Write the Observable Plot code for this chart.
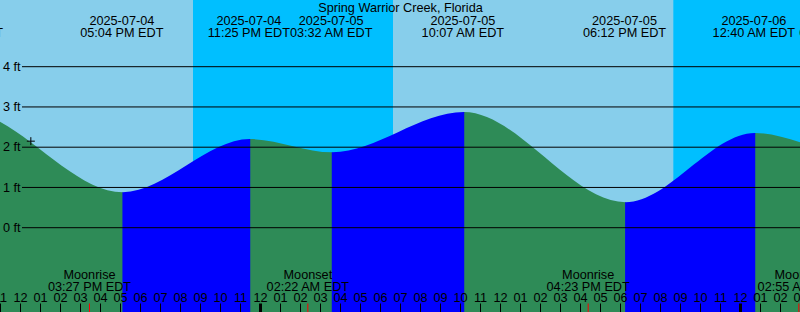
<!DOCTYPE html>
<html><head><meta charset="utf-8">
<script src="https://cdn.jsdelivr.net/npm/d3@7"></script>
<script src="https://cdn.jsdelivr.net/npm/@observablehq/plot@0.6"></script>
<style>
html,body{margin:0;padding:0;background:#fff;}
#chart{width:800px;height:312px;overflow:hidden;position:relative;}
#chart svg{display:block;}
</style></head><body><div id="chart"></div>
<script>
// ---- data ----
const title = "Spring Warrior Creek, Florida";
const tideDates  = ["2025-07-04","2025-07-04","2025-07-04","2025-07-05","2025-07-05","2025-07-05","2025-07-06","2025-07-06"];
const tideTimes  = ["09:04 AM","05:04 PM","11:25 PM","03:32 AM","10:07 AM","06:12 PM","12:40 AM","05:00 AM"];
const tideLevels = [2.90, 0.87, 2.19, 1.86, 2.86, 0.62, 2.34, 1.91];
const moonKinds = ["Moonrise","Moonset","Moonrise","Moonset"];
const moonDates = ["2025-07-04","2025-07-05","2025-07-05","2025-07-06"];
const moonTimes = ["03:27 PM","02:22 AM","04:23 PM","02:55 AM"];
const sunsetDates  = ["2025-07-04","2025-07-05"];
const sunsetTimes  = ["08:39 PM","08:40 PM"];
const sunriseDates = ["2025-07-05","2025-07-06"];
const sunriseTimes = ["06:39 AM","06:40 AM"];
const hourLabels = ["11","12","01","02","03","04","05","06","07","08","09","10","11","12",
  "01","02","03","04","05","06","07","08","09","10","11","12",
  "01","02","03","04","05","06","07","08","09","10","11","12","01","02","03"];
const levelTicks = [0, 1, 2, 3, 4];
const nowDate = "2025-07-04", nowTime = "12:31 PM", nowLevel = 2.15;
const startHour = 11; // 2025-07-04 11:00 AM EDT
const endHour = 51;   // 2025-07-06 03:00 AM EDT

// ---- helpers ----
function toHours(date, time) {
  const day = +date.slice(8, 10) - 4;
  const [hm, ap] = time.split(" ");
  let [h, m] = hm.split(":").map(Number);
  h = (h % 12) + (ap === "PM" ? 12 : 0);
  return day * 24 + h + m / 60;
}
const extremes = tideTimes.map((t, i) => ({date: tideDates[i], time: t, h: toHours(tideDates[i], t), level: tideLevels[i]}));
const eps = 0.02;
const segs = [];
for (let i = 0; i < extremes.length - 1; i++) {
  const a = extremes[i], b = extremes[i + 1];
  const rising = b.level > a.level;
  segs.push({seg: i, rising, h: a.h - eps, level: a.level});
  segs.push({seg: i, rising, h: a.h, level: a.level});
  segs.push({seg: i, rising, h: b.h, level: b.level});
  segs.push({seg: i, rising, h: b.h + eps, level: b.level});
}
const moons = moonTimes.map((t, i) => ({kind: moonKinds[i], time: t, h: toHours(moonDates[i], t)}));
const nights = sunsetTimes.map((t, i) => ({start: toHours(sunsetDates[i], t), end: toHours(sunriseDates[i], sunriseTimes[i])}));
const hours = hourLabels.map((l, i) => ({label: l, h: startHour + i}));
const now = {h: toHours(nowDate, nowTime), level: nowLevel};

const font = "'Liberation Sans', Arial, sans-serif";
const fs = 12.7;
const yBottom = -2.4, yTop = 6.2;

const chart = Plot.plot({
  width: 800, height: 312, margin: 0,
  x: {domain: [startHour, endHour], range: [0, 800], axis: null},
  y: {domain: [0, 4], range: [227.2, 66.2], axis: null},
  style: {fontFamily: font, fontSize: fs + "px", background: "#87CEEB", color: "black", overflow: "hidden"},
  marks: [
    Plot.rect(nights, {x1: "start", x2: "end", y1: yBottom, y2: yTop, fill: "#00BFFF"}),
    Plot.areaY(segs, {filter: d => !d.rising, x: "h", y1: yBottom, y2: "level", z: "seg", fill: "#2E8B57", curve: "monotone-x", dx: 1.5}),
    Plot.areaY(segs, {filter: d => d.rising, x: "h", y1: yBottom, y2: "level", z: "seg", fill: "#0000FF", curve: "monotone-x", dx: 1.5}),
    Plot.ruleY(levelTicks, {y: d => d, stroke: "black", strokeWidth: 1, insetLeft: 22}),
    Plot.text(levelTicks, {y: d => d, text: d => `${d} ft`, frameAnchor: "left", textAnchor: "start", dx: 2.5, fontSize: fs, fill: "black"}),
    Plot.dot([now], {x: "h", y: "level", symbol: "plus", r: 2.7, stroke: "black", fill: "none", strokeWidth: 1}),
    Plot.text([title], {text: d => d, frameAnchor: "top", dy: 11, lineAnchor: "bottom", fontSize: fs, fill: "black"}),
    Plot.text(extremes, {x: "h", text: d => `${d.date}\n${d.time} EDT`, frameAnchor: "top", dy: 36, lineAnchor: "bottom", lineHeight: 12 / fs, fontSize: fs, fill: "black"}),
    Plot.text(moons, {x: "h", text: d => `${d.kind}\n${d.time} EDT`, frameAnchor: "bottom", dy: -22, lineAnchor: "bottom", lineHeight: 11.7 / fs, fontSize: fs, fill: "black"}),
    Plot.text(hours, {x: "h", text: "label", frameAnchor: "bottom", dy: -10.7, lineAnchor: "bottom", fontSize: fs, fill: "black"}),
    Plot.ruleX(hours, {filter: d => d.h % 24 !== 0, x: "h", insetTop: 303.5, stroke: "black", strokeWidth: 1}),
    Plot.ruleX(hours, {filter: d => d.h % 24 === 0, x: "h", insetTop: 303.5, stroke: "black", strokeWidth: 3}),
    Plot.ruleX(moons, {x: "h", insetTop: 303.5, stroke: "red", strokeWidth: 1})
  ]
});
document.getElementById("chart").appendChild(chart);
</script>
</body></html>
